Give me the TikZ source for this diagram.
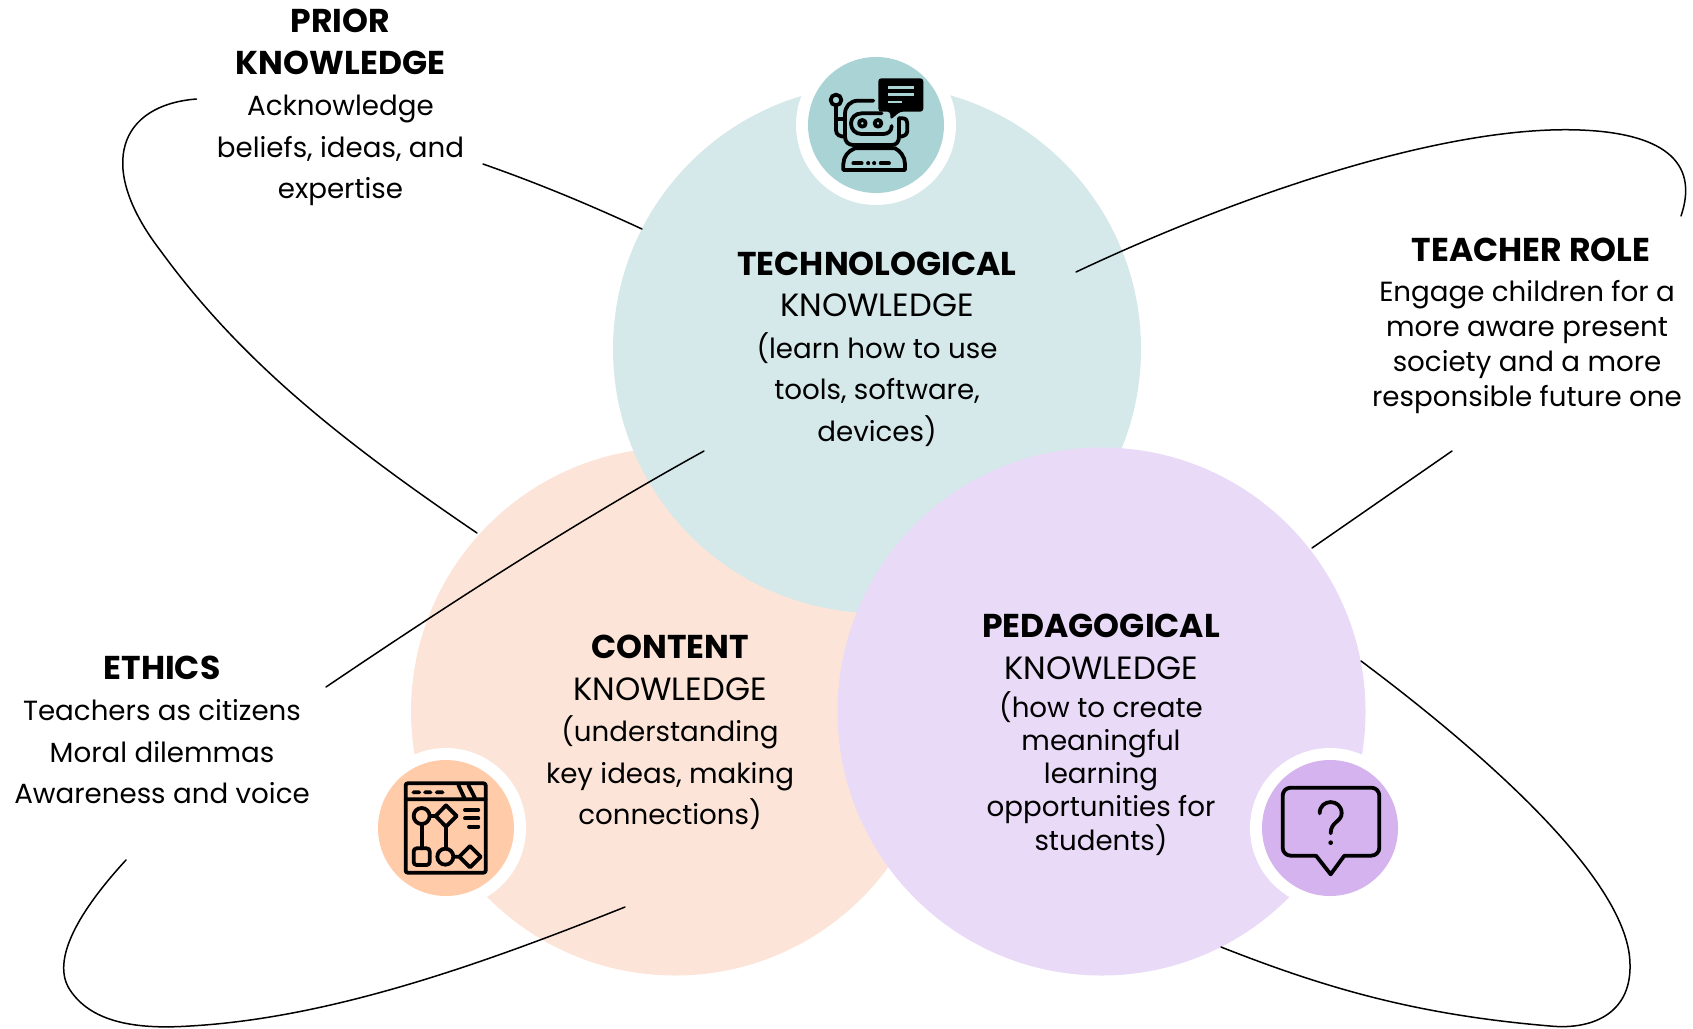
\documentclass[tikz,border=0pt]{standalone}
\usepackage{fontspec}
\setmainfont{Poppins}
\newcommand{\hd}[1]{{\fontsize{33}{10}\bfseries #1}}
\newcommand{\kn}{{\fontsize{32.2}{10}\selectfont KNOWLEDGE}}
\definecolor{tealL}{HTML}{D5E8EA}\definecolor{tealD}{HTML}{AAD3D5}
\definecolor{peachL}{HTML}{FCE5D8}\definecolor{peachD}{HTML}{FFCBA8}
\definecolor{purpL}{HTML}{E9DAF8}\definecolor{purpD}{HTML}{D5B3EE}
\tikzset{
  bigc/.style={circle,minimum size=528pt,inner sep=0pt,fill=#1},
  halo/.style={circle,minimum size=160pt,inner sep=0pt,fill=white},
  icon/.style={circle,minimum size=136pt,inner sep=0pt,fill=#1},
  txt/.style={align=center,text=black,inner sep=0pt,font=\fontsize{27.7}{41.5}\selectfont},
  conn/.style={draw=black,line width=1.5pt,line cap=round},
  ic/.style={draw=black,line width=3.8pt,line cap=round,line join=round,fill=none},
}
\newcommand{\zoomscope}[2]{\begin{scope}[shift={(#1,#2)},x=0.3333pt,y=-0.3333pt]}
\begin{document}
\begin{tikzpicture}[x=1pt,y=-1pt]
\useasboundingbox (0,0) rectangle (1693,1028);
\node[bigc=peachL] (cc) at (675,711.5) {};
\node[bigc=tealL] (tc) at (877,349) {};
\node[bigc=purpL] (pc) at (1101.5,711.5) {};
\node[halo] (th) at (876,125) {};
\node[icon=tealD] (ti) at (876,125) {};
\node[halo] (ch) at (446,828) {};
\node[icon=peachD] (ci) at (446,828) {};
\node[halo] (ph) at (1330,828) {};
\node[icon=purpD] (pi) at (1330,828) {};
% connectors
\coordinate (a1) at (196.5,99); \coordinate (a2) at (477,533);
\coordinate (b1) at (483,164); \coordinate (b2) at (642,229);
\coordinate (c1) at (1076,272); \coordinate (c2) at (1681,216);
\coordinate (d1) at (1452,451); \coordinate (d2) at (1312,548);
\coordinate (e1) at (1361,661); \coordinate (e2) at (1221,947);
\coordinate (f1) at (704,451); \coordinate (f2) at (326,687);
\coordinate (g1) at (126,860); \coordinate (g2) at (625,907);
\draw[conn] (a1) .. controls (120,105) and (95,165) .. (160,250) .. controls (240,360) and (340,440) .. (a2);
\draw[conn] (b1) .. controls (540,184) and (590,205) .. (b2);
\draw[conn] (c1) .. controls (1250,190) and (1450,125) .. (1580,130) .. controls (1660,133) and (1700,160) .. (c2);
\draw[conn] (d1) -- (d2);
\draw[conn] (e1) .. controls (1480,750) and (1630,880) .. (1630,965) .. controls (1631,1015) and (1590,1030) .. (1550,1026) .. controls (1420,1015) and (1330,990) .. (e2);
\draw[conn] (f1) .. controls (570,525) and (440,610) .. (f2);
\draw[conn] (g1) .. controls (80,910) and (50,960) .. (70,990) .. controls (90,1020) and (130,1030) .. (190,1026) .. controls (330,1018) and (480,965) .. (g2);
% text
\node[txt] (t1) at (877,349) {\hd{TECHNOLOGICAL}\\\kn\\(learn how to use\\tools, software,\\devices)};
\node[txt] (t2) at (670,732.5) {\hd{CONTENT}\\\kn\\(understanding\\key ideas, making\\connections)};
\node[txt,font=\fontsize{27.7}{33}\selectfont] (t3) at (1101,735) {\hd{PEDAGOGICAL}\\[9pt]\kn\\[5pt](how to create\\meaningful\\learning\\opportunities for\\students)};
\node[txt] (t4) at (162,730) {\hd{ETHICS}\\Teachers as citizens\\Moral dilemmas\\Awareness and voice};
\node[txt,font=\fontsize{27.7}{35}\selectfont] (t5) at (1527,325.5) {\hspace{8pt}\hd{TEACHER ROLE}\\[5pt]Engage children for a\\more aware present\\society and a more\\responsible future one};
\node[txt] (t6) at (340.5,107.5) {\hd{PRIOR}\\\hd{KNOWLEDGE}\\Acknowledge\\beliefs, ideas, and\\expertise};
% robot
\zoomscope{790}{40}
\fill[black,rounded corners=3pt] (265,115) -- (400,115) -- (400,215) -- (330,215) -- (301,240) -- (301,215) -- (265,215) -- cycle;
\draw[tealD,line width=2.4pt] (293,142) -- (372,142) (293,164) -- (372,164) (293,186) -- (335,186);
\draw[ic] (250,182) -- (205,182) .. controls (180,182) and (165,200) .. (165,222) -- (165,290) .. controls (165,305) and (175,315) .. (190,315) -- (305,315) .. controls (320,315) and (327,305) .. (327,290) -- (327,235);
\draw[ic] (275,220) -- (215,220) .. controls (195,220) and (183,235) .. (183,250) .. controls (183,268) and (195,282) .. (215,282) -- (280,282) .. controls (295,282) and (305,272) .. (305,258);
\draw[ic] (217,250) circle[radius=10];
\draw[ic] (264,250) circle[radius=10];
\draw[ic] (138,180) circle[radius=16];
\draw[ic] (138,196) -- (138,270) .. controls (138,285) and (150,290) .. (165,290);
\draw[ic] (165,237) -- (145,237);
\draw[ic] (327,235) -- (338,235) .. controls (348,235) and (352,242) .. (352,250) -- (352,272) .. controls (352,285) and (340,290) .. (327,290);
\draw[ic] (160,390) -- (160,372) .. controls (160,350) and (175,332) .. (195,325) -- (315,325) .. controls (330,332) and (345,350) .. (345,372) -- (345,390) -- (160,390);
\draw[ic] (190,370) -- (215,370) (272,370) -- (297,370) (234,370) -- (235,370) (252,370) -- (253,370);
\end{scope}
% window
\zoomscope{365}{740}
\draw[ic,rounded corners=2pt] (122,130) rectangle (362,398);
\draw[ic] (122,178) -- (362,178) (145,157) -- (163,157) (180,157) -- (197,157) (215,157) -- (233,157) (280,135) -- (300,178) (310,135) -- (332,178);
\draw[ic] (170,228) circle[radius=24] (194,228) -- (212,228) (243,196) -- (275,228) -- (243,260) -- (212,228) -- cycle;
\draw[ic] (170,252) -- (170,325) (243,260) -- (243,325);
\draw[ic,rounded corners=3pt] (146,325) rectangle (194,375);
\draw[ic] (241,350) circle[radius=24] (265,350) -- (283,350) (315,318) -- (347,350) -- (315,382) -- (283,350) -- cycle;
\draw[ic] (300,210) -- (340,210) (300,235) -- (340,235) (312,260) -- (340,260);
\end{scope}
% question
\zoomscope{1245}{740}
\draw[ic,rounded corners=8pt] (213,347) -- (113,347) -- (113,143) -- (403,143) -- (403,347) -- (298,347);
\draw[ic] (213,347) -- (257,403) -- (298,347);
\draw[ic] (224,220) .. controls (224,175) and (290,175) .. (290,220) .. controls (290,245) and (257,245) .. (257,280);
\fill[black] (257,308) circle[radius=7];
\end{scope}
\end{tikzpicture}
\end{document}
